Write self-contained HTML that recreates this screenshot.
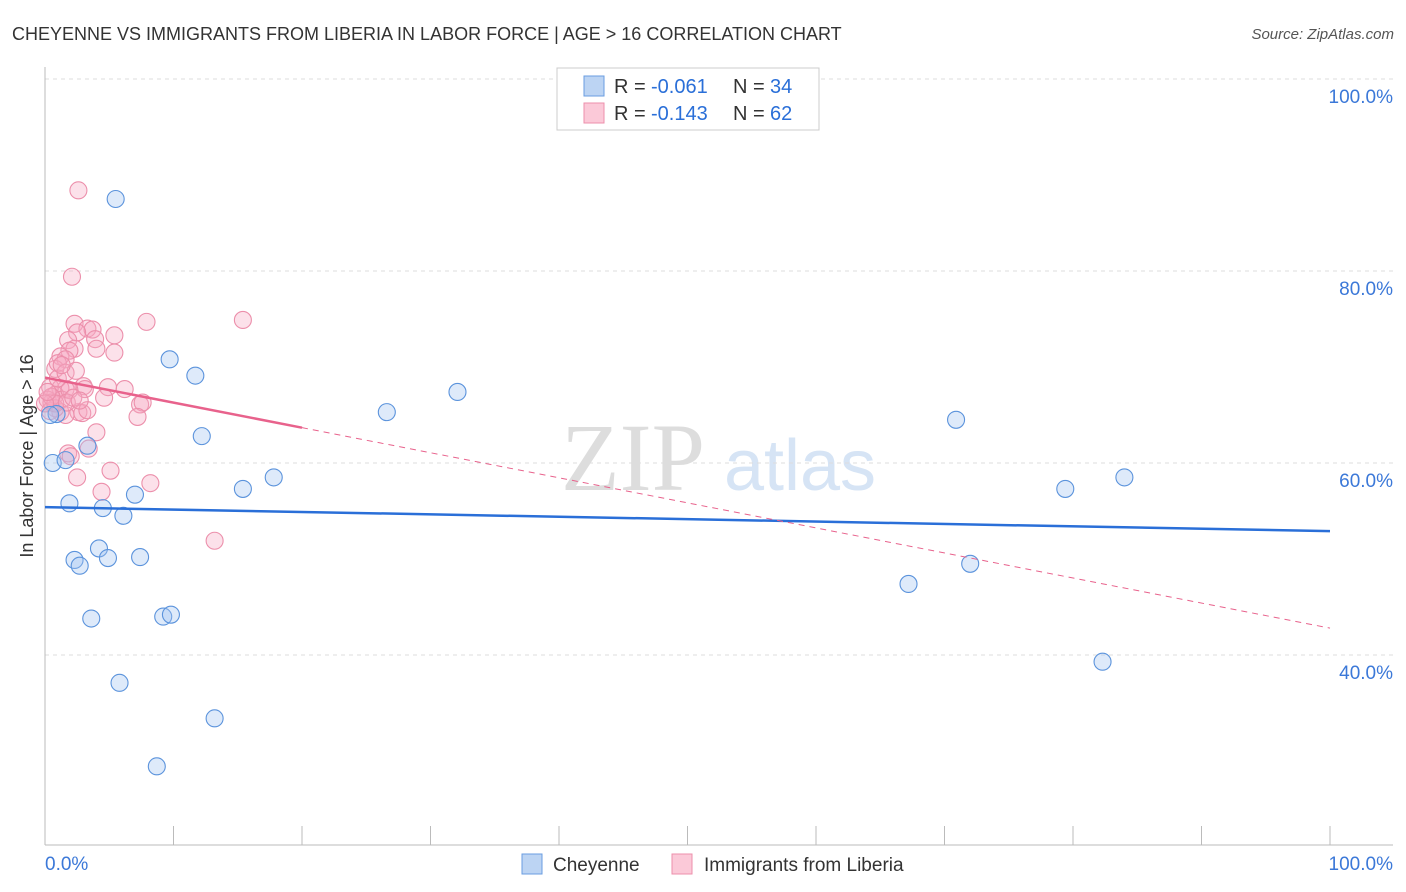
<!DOCTYPE html>
<html><head><meta charset="utf-8"><style>
body{margin:0;background:#fff;font-family:"Liberation Sans",sans-serif;}
#wrap{position:relative;width:1406px;height:892px;overflow:hidden;}
</style></head><body>
<div id="wrap">
<svg id="svg" width="1406" height="892" xmlns="http://www.w3.org/2000/svg">
<text x="12" y="40" font-size="18" fill="#333">CHEYENNE VS IMMIGRANTS FROM LIBERIA IN LABOR FORCE | AGE &gt; 16 CORRELATION CHART</text>
<text x="1394" y="39" font-size="15" fill="#555" font-style="italic" text-anchor="end">Source: ZipAtlas.com</text>
<text x="633" y="490" font-size="96" fill="#ddd" font-family="Liberation Serif,serif" text-anchor="middle">ZIP</text>
<text x="800" y="490" font-size="72" fill="#d6e4f5" text-anchor="middle">atlas</text>
<text transform="translate(33,456) rotate(-90)" font-size="18" fill="#333" text-anchor="middle">In Labor Force | Age &gt; 16</text>
<g id="grid"></g><g id="pts"></g><g id="lines"></g>
<g>
<rect x="557" y="68" width="262" height="62" fill="#fff" stroke="#ccc"/>
<rect x="584" y="76" width="20" height="20" fill="#bcd4f3" stroke="#6a9de0"/>
<rect x="584" y="103" width="20" height="20" fill="#fbc9d8" stroke="#ec8fab"/>
<text x="614" y="93" font-size="20" fill="#333">R =</text>
<text x="651" y="93" font-size="20" fill="#2a6fd8">-0.061</text>
<text x="733" y="93" font-size="20" fill="#333">N =</text>
<text x="770" y="93" font-size="20" fill="#2a6fd8">34</text>
<text x="614" y="120" font-size="20" fill="#333">R =</text>
<text x="651" y="120" font-size="20" fill="#2a6fd8">-0.143</text>
<text x="733" y="120" font-size="20" fill="#333">N =</text>
<text x="770" y="120" font-size="20" fill="#2a6fd8">62</text>
</g>
<g>
<rect x="522" y="854" width="20" height="20" fill="#bcd4f3" stroke="#6a9de0"/>
<text x="553" y="871" font-size="19" fill="#333">Cheyenne</text>
<rect x="672" y="854" width="20" height="20" fill="#fbc9d8" stroke="#ec8fab"/>
<text x="704" y="871" font-size="19" fill="#333">Immigrants from Liberia</text>
</g>
</svg></div>
<script>
const yTicks=[40,60,80,100];
const blueX=[5.5,9.7,11.7,12.2,26.6,32.1,0.9,0.4,0.6,1.6,3.3,1.9,4.5,7.0,6.1,15.4,17.8,2.3,2.7,4.2,4.9,7.4,3.6,9.2,9.8,5.8,13.2,8.7,70.9,79.4,84.0,67.2,72.0,82.3];
const blueY=[87.5,70.8,69.1,62.8,65.3,67.4,65.1,65.0,60.0,60.3,61.8,55.8,55.3,56.7,54.5,57.3,58.5,49.9,49.3,51.1,50.1,50.2,43.8,44.0,44.2,37.1,33.4,28.4,64.5,57.3,58.5,47.4,49.5,39.3];
const pinkX=[2.6,2.1,7.9,15.4,2.3,3.3,3.7,2.5,3.9,1.8,2.3,5.4,5.4,4.0,1.9,1.2,1.6,0.8,1.0,6.2,4.9,3.0,3.1,1.6,0.4,1.2,0.8,0.2,0.5,1.3,4.6,7.4,7.6,7.2,2.6,2.9,3.3,1.2,1.6,0.8,0.4,4.0,3.4,1.8,2.0,2.5,5.1,8.2,4.4,13.2,0.5,0.8,0.0,0.2,1.0,1.6,2.4,1.9,1.7,2.2,1.3,2.7];
const pinkY=[88.4,79.4,74.7,74.9,74.5,74.0,73.9,73.6,72.9,72.8,71.9,73.3,71.5,71.9,71.7,71.1,70.8,69.8,70.4,67.7,67.9,68.0,67.7,67.7,67.9,67.8,67.1,66.6,66.3,66.6,66.8,66.1,66.3,64.8,65.3,65.2,65.5,65.3,65.0,65.7,65.4,63.2,61.5,61.0,60.7,58.5,59.2,57.9,57.0,51.9,66.9,66.2,66.2,67.4,68.8,69.4,69.6,67.6,66.3,66.8,70.2,66.5];
const blueTrend=[55.4,52.9];
const pinkTrend=[68.9,42.8];
const pinkSolidEnd=20;
const X=v=>45+v*12.85, Y=v=>1039-v*9.6;
const ns="http://www.w3.org/2000/svg";
function mk(t,a,p){const e=document.createElementNS(ns,t);for(const k in a)e.setAttribute(k,a[k]);p.appendChild(e);return e;}
const g=document.getElementById('grid');
for(const t of yTicks){const l=mk('line',{x1:45,x2:1393,y1:Y(t),y2:Y(t),stroke:'#ddd','stroke-dasharray':'4,4'},g);


const tx=mk('text',{x:1393,y:Y(t)+24,'font-size':19,fill:'#3b78d8','text-anchor':'end'},g);tx.textContent=t.toFixed(1)+'%';

}
mk('line',{x1:45,x2:45,y1:67,y2:845,stroke:'#bbb'},g);
mk('line',{x1:45,x2:1393,y1:845,y2:845,stroke:'#bbb'},g);
for(let i=0;i<=10;i++){mk('line',{x1:X(i*10),x2:X(i*10),y1:826,y2:845,stroke:'#bbb'},g);}
const x0=mk('text',{x:45,y:870,'font-size':19,fill:'#3b78d8'},g);x0.textContent='0.0%';


const x1=mk('text',{x:1393,y:870,'font-size':19,fill:'#3b78d8','text-anchor':'end'},g);x1.textContent='100.0%';


const p=document.getElementById('pts');
pinkX.forEach((x,i)=>{const c=mk('circle',{cx:X(x),cy:Y(pinkY[i]),r:8.5,fill:'rgba(247,170,195,0.35)',stroke:'#ec8fab','stroke-width':1.1},p);

});
blueX.forEach((x,i)=>{const c=mk('circle',{cx:X(x),cy:Y(blueY[i]),r:8.5,fill:'rgba(160,195,240,0.35)',stroke:'#5b93dc','stroke-width':1.1},p);

});
const L=document.getElementById('lines');
const bl=mk('line',{x1:X(0),y1:Y(blueTrend[0]),x2:X(100),y2:Y(blueTrend[1]),stroke:'#2a6fd8','stroke-width':2.5},L);


const py=v=>pinkTrend[0]+(pinkTrend[1]-pinkTrend[0])*v/100;
const ps=mk('line',{x1:X(0),y1:Y(py(0)),x2:X(pinkSolidEnd),y2:Y(py(pinkSolidEnd)),stroke:'#e8628c','stroke-width':2.5},L);


const pd=mk('line',{x1:X(pinkSolidEnd),y1:Y(py(pinkSolidEnd)),x2:X(100),y2:Y(py(100)),stroke:'#e8628c','stroke-width':1,'stroke-dasharray':'6,5'},L);


</script>
</body></html>
